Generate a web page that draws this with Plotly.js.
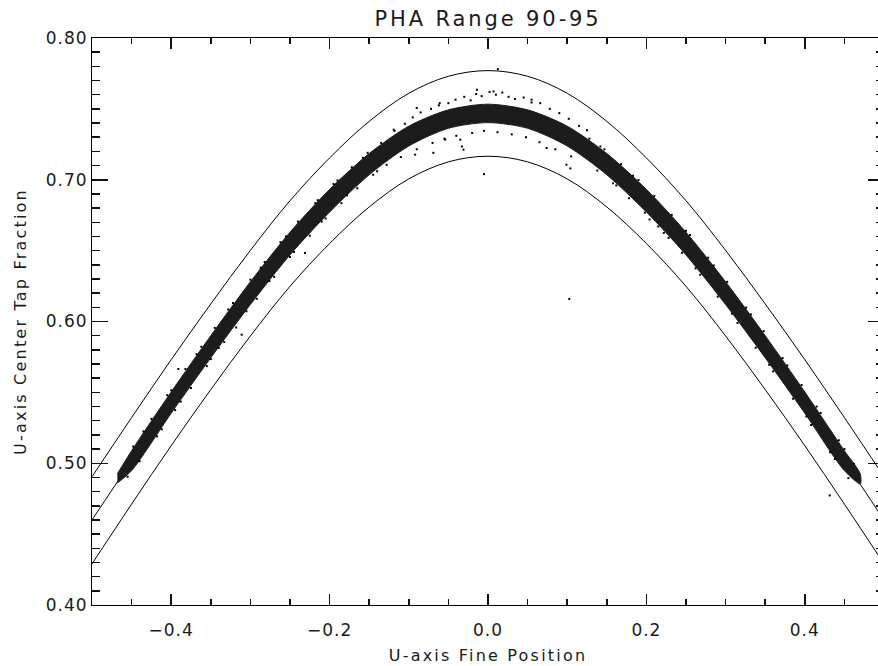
<!DOCTYPE html>
<html><head><meta charset="utf-8">
<script src="https://cdn.plot.ly/plotly-3.0.1.min.js"></script>
<style>
html,body{margin:0;padding:0;overflow:hidden;background:#fff;}
#chart{width:884px;height:666px;}
.gtitle{letter-spacing:2.9px;}
.xtitle,.ytitle{letter-spacing:2.2px;}
.xtick text,.ytick text{letter-spacing:1px;}
</style></head>
<body><div id="chart"></div>
<script>
// Envelope curves
const curveX = [-0.5,-0.45,-0.4,-0.35,-0.3,-0.25,-0.2,-0.15,-0.1,-0.05,0,0.05,0.1,0.15,0.2,0.25,0.3,0.35,0.4,0.45,0.5];
const upperY  = [0.4905,0.5322,0.5731,0.6124,0.6502,0.6852,0.7154,0.7412,0.7610,0.7730,0.7770,0.7730,0.7610,0.7412,0.7154,0.6852,0.6502,0.6124,0.5731,0.5322,0.4905];
const middleY = [0.4600,0.5018,0.5428,0.5822,0.6200,0.6550,0.6852,0.7110,0.7308,0.7428,0.7468,0.7428,0.7308,0.7110,0.6852,0.6550,0.6200,0.5822,0.5428,0.5018,0.4600];
const lowerY  = [0.4290,0.4712,0.5124,0.5520,0.5898,0.6248,0.6550,0.6808,0.7006,0.7126,0.7166,0.7126,0.7006,0.6808,0.6550,0.6248,0.5898,0.5520,0.5124,0.4712,0.4290];

// Dense event band (core of the point cloud)
const bandX      = [-0.468,-0.45,-0.4,-0.35,-0.3,-0.25,-0.2,-0.15,-0.1,-0.05,0,0.05,0.1,0.15,0.2,0.25,0.3,0.35,0.4,0.45,0.470];
const bandTop    = [0.4925,0.5088,0.5503,0.5900,0.6280,0.6630,0.6932,0.7185,0.7378,0.7493,0.7533,0.7493,0.7378,0.7185,0.6932,0.6630,0.6280,0.5900,0.5503,0.5088,0.4925];
const bandBottom = [0.4860,0.4948,0.5353,0.5744,0.6120,0.6470,0.6772,0.7035,0.7238,0.7363,0.7403,0.7363,0.7238,0.7035,0.6772,0.6470,0.6120,0.5744,0.5353,0.4948,0.4855];

// Individual scattered events around the band
const dotX = [
 -0.118,-0.105,-0.095,-0.085,-0.072,-0.062,-0.050,-0.041,-0.030,-0.022,-0.015,-0.008,0.002,0.010,0.018,0.026,0.034,0.045,0.055,0.066,0.078,0.090,0.102,0.115,0.125,
 -0.014,0.007,0.055,-0.061,-0.090,-0.119,
 -0.110,-0.090,-0.070,-0.055,-0.040,-0.020,-0.005,0.012,0.030,0.048,0.065,0.085,0.105,
 -0.035,-0.031,-0.033,-0.069,-0.092,-0.054,0.074,0.099,0.104,
 -0.005,0.0125,0.1026,0.4315,
 -0.448,-0.440,-0.425,-0.418,-0.405,-0.395,-0.391,-0.382,-0.375,-0.362,-0.355,-0.345,-0.340,-0.333,-0.318,-0.311,-0.322,-0.300,-0.292,-0.282,-0.270,-0.262,-0.250,-0.240,-0.231,-0.225,-0.215,-0.205,-0.195,-0.185,-0.172,-0.165,-0.152,-0.145,-0.135,-0.128,
 -0.455,-0.435,-0.412,-0.400,-0.388,-0.368,-0.350,-0.328,-0.305,-0.287,-0.276,-0.255,-0.245,-0.218,-0.210,-0.190,-0.178,-0.158,-0.140,
 0.128,0.138,0.147,0.158,0.168,0.178,0.190,0.204,0.215,0.198,0.210,0.222,0.232,0.245,0.255,0.268,0.278,0.290,0.302,0.315,0.326,0.338,0.348,0.360,0.372,0.385,0.396,0.408,0.420,0.432,0.443,0.455,0.462,
 0.142,0.162,0.183,0.228,0.250,0.262,0.285,0.308,0.332,0.355,0.378,0.402,0.415,0.438,0.450
];
const dotY = [
 0.7345,0.7395,0.7440,0.7475,0.7500,0.7525,0.7540,0.7565,0.7585,0.7560,0.7605,0.7590,0.7620,0.7600,0.7615,0.7585,0.7570,0.7580,0.7545,0.7540,0.7500,0.7470,0.7430,0.7380,0.7350,
 0.7635,0.7623,0.7565,0.7540,0.7506,0.7353,
 0.7160,0.7215,0.7260,0.7290,0.7310,0.7330,0.7345,0.7335,0.7320,0.7300,0.7265,0.7215,0.7165,
 0.7283,0.7212,0.7235,0.7190,0.7177,0.7283,0.7224,0.7106,0.7080,
 0.7040,0.7780,0.6159,0.4773,
 0.5118,0.5015,0.5313,0.5190,0.5480,0.5375,0.5665,0.5665,0.5530,0.5822,0.5685,0.5955,0.5813,0.5855,0.5958,0.5907,0.6130,0.6295,0.6160,0.6420,0.6315,0.6560,0.6455,0.6705,0.6483,0.6605,0.6856,0.6727,0.6970,0.6835,0.7088,0.6940,0.7190,0.7035,0.7260,0.7105,
 0.4905,0.5225,0.5240,0.5515,0.5435,0.5770,0.5735,0.6085,0.6072,0.6380,0.6285,0.6600,0.6490,0.6835,0.6705,0.6995,0.6890,0.7155,0.7060,
 0.7290,0.7065,0.7215,0.6975,0.7110,0.6870,0.6998,0.6720,0.6670,0.6768,0.6885,0.6625,0.6752,0.6485,0.6610,0.6330,0.6450,0.6175,0.6280,0.5990,0.6098,0.5815,0.5932,0.5648,0.5742,0.5455,0.5552,0.5270,0.5355,0.5078,0.5162,0.4895,0.4995,
 0.7235,0.6960,0.7028,0.6590,0.6640,0.6375,0.6395,0.6055,0.6050,0.5695,0.5690,0.5330,0.5400,0.5030,0.5100
];

// Axis ranges and tick steps
const xRange = [-0.5, 0.5], yRange = [0.40, 0.80];
const xTickStep = 0.2, xMinorStep = 0.05;
const yTickStep = 0.1, yMinorStep = 0.01;

const FONT = "'DejaVu Sans', sans-serif";
const INK = '#1a1a1a';
const TICK = '#111111';

const bandPolyX = bandX.concat(bandX.slice().reverse());
const bandPolyY = bandTop.concat(bandBottom.slice().reverse());

const traces = [
  {x: curveX, y: middleY, mode:'lines', line:{color:'#000', width:1, shape:'spline', smoothing:1}},
  {x: bandPolyX, y: bandPolyY, mode:'lines', fill:'toself', fillcolor:'#1c1c1c',
   line:{color:'#1c1c1c', width:1, shape:'spline', smoothing:0.8}},
  {x: dotX, y: dotY, mode:'markers', marker:{symbol:'square', size:2, color:'#000', line:{width:0}}},
  {x: curveX, y: upperY, mode:'lines', line:{color:'#000', width:1, shape:'spline', smoothing:1}},
  {x: curveX, y: lowerY, mode:'lines', line:{color:'#000', width:1, shape:'spline', smoothing:1}},
  {x: [], y: [], xaxis:'x2', yaxis:'y2', mode:'markers'},
  {x: [], y: [], xaxis:'x3', yaxis:'y3', mode:'markers'},
  {x: [], y: [], xaxis:'x4', yaxis:'y4', mode:'markers'}
];

function tickAxis(extra) {
  return Object.assign({
    showgrid:false, zeroline:false, showline:false, showticklabels:false,
    ticks:'inside', tickcolor:TICK, tickwidth:1.5, tickmode:'linear', tick0:0
  }, extra);
}

const layout = {
  width:884, height:666,
  margin:{l:92, r:0, t:38, b:61},
  paper_bgcolor:'#fff', plot_bgcolor:'rgba(0,0,0,0)',
  showlegend:false,
  title:{text:'PHA Range 90-95', font:{family:FONT, size:21, color:INK},
         x:0.5, xref:'paper', y:0.972, yref:'container', yanchor:'middle'},
  xaxis: {range:xRange, showgrid:false, zeroline:false, showline:true, linecolor:'#000', linewidth:1,
    ticks:'inside', tickcolor:TICK, tickwidth:1.5, ticklen:11, tickmode:'linear', tick0:0, dtick:xTickStep,
    tickformat:'.1f', ticklabelstandoff:10, tickfont:{family:FONT, size:17, color:INK},
    title:{text:'U-axis Fine Position', font:{family:FONT, size:16, color:INK}, standoff:10}},
  yaxis: {range:yRange, showgrid:false, zeroline:false, showline:true, linecolor:'#000', linewidth:1,
    ticks:'inside', tickcolor:TICK, tickwidth:1.5, ticklen:16, tickmode:'linear', tick0:0, dtick:yTickStep,
    tickformat:'.2f', tickfont:{family:FONT, size:17, color:INK},
    title:{text:'U-axis Center Tap Fraction', font:{family:FONT, size:16, color:INK}, standoff:15}},
  xaxis2: tickAxis({overlaying:'x', anchor:'y2', side:'bottom', range:xRange, dtick:xMinorStep, ticklen:6}),
  yaxis2: tickAxis({overlaying:'y', anchor:'x2', side:'left', range:yRange, dtick:yMinorStep, ticklen:8}),
  xaxis3: tickAxis({overlaying:'x', anchor:'y3', side:'top', range:xRange, dtick:xTickStep, ticklen:11, showline:true, linecolor:'#000', linewidth:1}),
  yaxis3: tickAxis({overlaying:'y', anchor:'x3', side:'right', range:yRange, dtick:yTickStep, ticklen:16}),
  xaxis4: tickAxis({overlaying:'x', anchor:'y4', side:'top', range:xRange, dtick:xMinorStep, ticklen:6}),
  yaxis4: tickAxis({overlaying:'y', anchor:'x4', side:'right', range:yRange, dtick:yMinorStep, ticklen:8})
};

Plotly.newPlot('chart', traces, layout, {staticPlot:true, displayModeBar:false});
</script>
</body></html>
